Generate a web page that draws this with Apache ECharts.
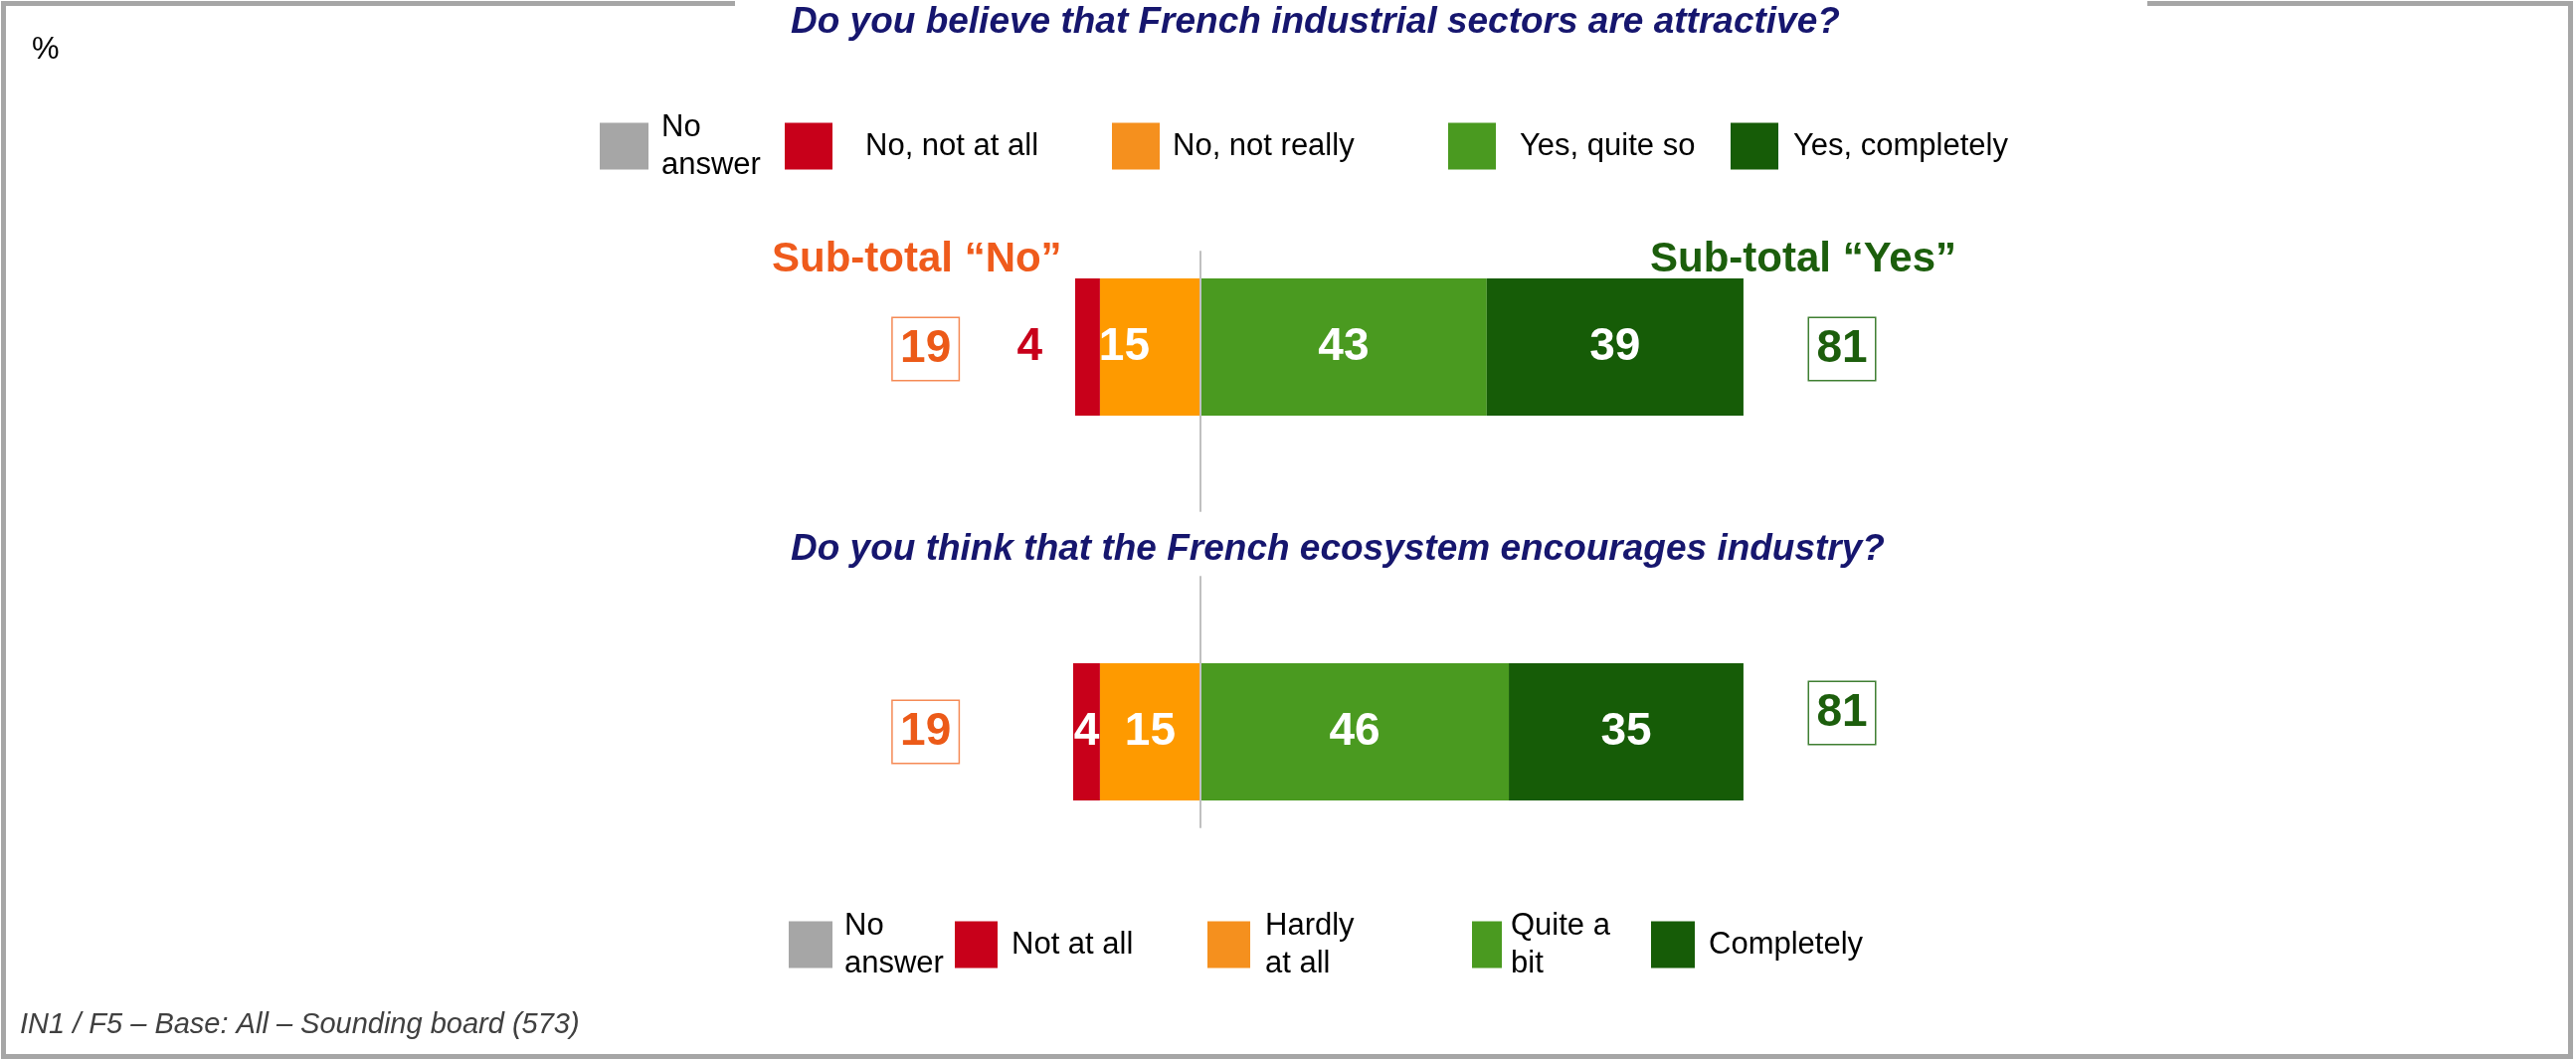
<!DOCTYPE html>
<html>
<head>
<meta charset="utf-8">
<script src="https://cdn.jsdelivr.net/npm/echarts@6/dist/echarts.min.js"></script>
<style>
html,body{margin:0;padding:0;background:#fff;}
#chart{width:2590px;height:1065px;}
</style>
</head>
<body>
<div id="chart"></div>
<script>
// ---------------- DATA ----------------
const questions = [
  'Do you believe that French industrial sectors are attractive?',
  'Do you think that the French ecosystem encourages industry?'
];
const legendNamesQ1 = ['No answer', 'No, not at all', 'No, not really', 'Yes, quite so', 'Yes, completely'];
const legendNamesQ2 = ['No answer', 'Not at all', 'Hardly at all', 'Quite a bit', 'Completely'];
const legendTextQ1 = ['No\nanswer', 'No, not at all', 'No, not really', 'Yes, quite so', 'Yes, completely'];
const legendTextQ2 = ['No\nanswer', 'Not at all', 'Hardly\nat all', 'Quite a\nbit', 'Completely'];
// bar lengths as measured (percent)
const noAnswer   = [0, 0];
const notAtAll   = [3.7, 4.0];
const notReally  = [15, 15];
const quiteYes   = [42.7, 46];
const completely = [38.3, 35];
// printed labels
const notAtAllLbl   = [4, 4];
const notReallyLbl  = [15, 15];
const quiteYesLbl   = [43, 46];
const completelyLbl = [39, 35];
const subTotalNo  = [19, 19];
const subTotalYes = [81, 81];
const subNoTitle = 'Sub-total \u201cNo\u201d';
const subYesTitle = 'Sub-total \u201cYes\u201d';
const footer = 'IN1 / F5 \u2013 Base: All \u2013 Sounding board (573)';

// ---------------- STYLE / LAYOUT ----------------
const FONT = '"Liberation Sans", Arial, Helvetica, sans-serif';
const C = {
  gray: '#a6a6a6', red: '#c8001a', orange: '#fe9a00', orangeLeg: '#f5901e',
  light: '#4a9a20', dark: '#165c07', navy: '#16166e',
  subNo: '#ec5a18', subNoBorder: '#f58a55', subYes: '#1c5e0c', subYesBorder: '#3f7f32'
};
const X_MIN = -50, X_MAX = 110;
const GRID_LEFT = 870, GRID_RIGHT = 2590 - 1948.4;
const barGrids = [{top: 280, height: 138}, {top: 667, height: 138}];
const lineGrids = [{top: 253, height: 261}, {top: 580, height: 252}];
const SUB_NO_X = -41, SUB_YES_X = 95.7;
const subYesOffsetY = [2, -19];
const subNoOffsetY = [2, 0];

const grids = [], xAxes = [], yAxes = [];
[...barGrids, ...lineGrids].forEach((g, i) => {
  grids.push({left: GRID_LEFT, right: GRID_RIGHT, top: g.top, height: g.height});
  xAxes.push({type: 'value', gridIndex: i, min: X_MIN, max: X_MAX, show: false});
  const isLine = i >= 2;
  yAxes.push({
    type: 'category', gridIndex: i, data: [isLine ? '' : questions[i]], inverse: true,
    show: isLine, z: 10,
    axisLine: {show: isLine, onZero: true, lineStyle: {color: '#c0c0c0', width: 2}},
    axisTick: {show: false}, axisLabel: {show: false}, splitLine: {show: false}
  });
});

const barLabel = (txt, extra) => Object.assign({
  show: true, position: 'inside', formatter: String(txt), color: '#fff',
  fontSize: 46, fontWeight: 'bold', fontFamily: FONT
}, extra || {});

const series = [];
[0, 1].forEach(q => {
  const names = q === 0 ? legendNamesQ1 : legendNamesQ2;
  const base = {type: 'bar', stack: 'q' + q, xAxisIndex: q, yAxisIndex: q, barWidth: '100%'};
  series.push(Object.assign({}, base, {name: names[0], data: [noAnswer[q]],
    itemStyle: {color: C.gray}, label: {show: false}}));
  series.push(Object.assign({}, base, {name: names[2], data: [-notReally[q]],
    itemStyle: {color: C.orange}, label: barLabel(notReallyLbl[q], {offset: q === 0 ? [-26, 0] : [0, 0]})}));
  series.push(Object.assign({}, base, {name: names[1], data: [-notAtAll[q]],
    itemStyle: {color: C.red},
    label: q === 0 ? barLabel(notAtAllLbl[q], {position: 'left', distance: 33, color: C.red})
                   : barLabel(notAtAllLbl[q])}));
  series.push(Object.assign({}, base, {name: names[3], data: [quiteYes[q]],
    itemStyle: {color: C.light}, label: barLabel(quiteYesLbl[q])}));
  series.push(Object.assign({}, base, {name: names[4], data: [completely[q]],
    itemStyle: {color: C.dark}, label: barLabel(completelyLbl[q])}));
  const box = (val, color, border, dy) => ({
    show: true, position: 'inside', formatter: String(val), color: color, opacity: 1,
    fontSize: 46, fontWeight: 'bold', fontFamily: FONT,
    backgroundColor: '#fff', borderColor: border, borderWidth: 1.5,
    width: 66, height: 62, lineHeight: 62, align: 'center', verticalAlign: 'middle',
    offset: [0, dy]
  });
  series.push({type: 'scatter', name: 'subtotal' + q, xAxisIndex: q, yAxisIndex: q, symbol: 'circle', symbolSize: 2, clip: false,
    itemStyle: {color: 'rgba(255,255,255,0)', opacity: 1}, silent: true, z: 5,
    data: [{value: [SUB_NO_X, 0], label: box(subTotalNo[q], C.subNo, C.subNoBorder, subNoOffsetY[q])},
           {value: [SUB_YES_X, 0], label: box(subTotalYes[q], C.subYes, C.subYesBorder, subYesOffsetY[q])}]});
});

// legends
const legColorsQ1 = [C.gray, C.red, C.orangeLeg, C.light, C.dark];
const leg1Layout = [{x: 603, w: 49, gap: 13}, {x: 789, w: 48, gap: 33}, {x: 1118, w: 48, gap: 13}, {x: 1456, w: 48, gap: 24}, {x: 1740, w: 48, gap: 15}];
const leg2Layout = [{x: 793, w: 44, gap: 12}, {x: 960, w: 43, gap: 14}, {x: 1214, w: 43, gap: 15}, {x: 1480, w: 30, gap: 9}, {x: 1660, w: 44, gap: 14}];
const LEG_H = 47, LEG_LH = 38;
const legends = [];
function addLegends(names, texts, layout, centerY) {
  names.forEach((n, i) => {
    const twoLine = texts[i].indexOf('\n') >= 0;
    const h = twoLine ? LEG_LH * 2 : LEG_H;
    legends.push({
      left: layout[i].x, top: centerY - h / 2, padding: 0, icon: 'rect',
      itemWidth: layout[i].w, itemHeight: LEG_H, selectedMode: false,
      data: [{name: n, itemStyle: {color: legColorsQ1[i]}}],
      formatter: () => texts[i],
      textStyle: {fontSize: 31, color: '#000', fontFamily: FONT, lineHeight: LEG_LH,
        padding: [0, 0, 0, layout[i].gap - 5]}
    });
  });
}
addLegends(legendNamesQ1, legendTextQ1, leg1Layout, 147);
addLegends(legendNamesQ2, legendTextQ2, leg2Layout, 950);

const titleStyle = (fs, color, extra) => Object.assign({fontSize: fs, color: color, fontFamily: FONT, lineHeight: fs}, extra || {});
const titles = [
  {text: questions[0], left: 795, top: 4, padding: 0, textStyle: titleStyle(37, C.navy, {fontWeight: 'bold', fontStyle: 'italic'})},
  {text: questions[1], left: 795, top: 534, padding: 0, textStyle: titleStyle(37, C.navy, {fontWeight: 'bold', fontStyle: 'italic'})},
  {text: '%', left: 32, top: 35, padding: 0, textStyle: titleStyle(31, '#000', {fontWeight: 'normal'})},
  {text: subNoTitle, left: 776, top: 240, padding: 0, textStyle: titleStyle(42, '#ef5b1c', {fontWeight: 'bold'})},
  {text: subYesTitle, left: 1659, top: 240, padding: 0, textStyle: titleStyle(42, C.subYes, {fontWeight: 'bold'})},
  {text: footer, left: 20, top: 1016, padding: 0, textStyle: titleStyle(29, '#404040', {fontWeight: 'normal', fontStyle: 'italic'})}
];

const frameStyle = {stroke: '#a6a6a6', lineWidth: 5, fill: null};
const graphic = [
  {type: 'polyline', shape: {points: [[739, 3.5], [3.5, 3.5], [3.5, 1062.5], [2584.5, 1062.5], [2584.5, 3.5], [2159, 3.5]]}, style: frameStyle, silent: true}
];

const chart = echarts.init(document.getElementById('chart'), null, {renderer: 'canvas'});
chart.setOption({
  animation: false,
  backgroundColor: '#fff',
  title: titles,
  legend: legends,
  grid: grids,
  xAxis: xAxes,
  yAxis: yAxes,
  series: series,
  graphic: graphic
});
</script>
</body>
</html>
